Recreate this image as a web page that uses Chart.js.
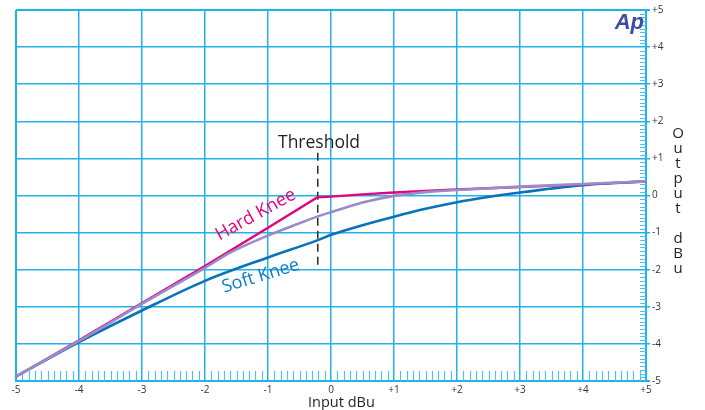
<!DOCTYPE html>
<html><head><meta charset="utf-8">
<script src="https://cdn.jsdelivr.net/npm/chart.js@4.4.1/dist/chart.umd.min.js"></script>
<style>html,body{margin:0;padding:0;background:#fff;}canvas{display:block;}</style>
</head><body>
<canvas id="c" width="705" height="410"></canvas>
<script>
// ---- data ----
const xTickLabels = ['-5','-4','-3','-2','-1','0','+1','+2','+3','+4','+5'];
const yTickLabels = ['-5','-4','-3','-2','-1','0','+1','+2','+3','+4','+5'];
const tickValues = [-5,-4,-3,-2,-1,0,1,2,3,4,5];

const softKneeIn  = [-5, -4, -3, -2, -1, -0.22, 0, 0.5, 1, 1.5, 2, 3, 4, 5];
const softKneeOut = [-4.88, -3.95, -3.1, -2.3, -1.67, -1.21, -1.06, -0.8, -0.57, -0.36, -0.18, 0.08, 0.28, 0.38];

const hardKneeIn  = [-5, -4, -3, -2, -1, -0.22, 0, 0.5, 1, 1.5, 2, 3, 4, 5];
const hardKneeOut = [-4.88, -3.9, -2.9, -1.9, -0.87, -0.05, -0.03, 0.03, 0.08, 0.12, 0.16, 0.23, 0.30, 0.38];

const midKneeIn  = [-5, -4, -3, -2, -1.6, -1, -0.5, -0.22, 0, 0.5, 1, 1.5, 2, 3, 4, 5];
const midKneeOut = [-4.88, -3.92, -2.92, -1.95, -1.54, -1.08, -0.75, -0.57, -0.45, -0.19, -0.01, 0.09, 0.15, 0.24, 0.31, 0.38];

const thresholdIn  = [-0.21, -0.21];
const thresholdOut = [1.15, -1.95];

const pts = (xs, ys) => xs.map((x, i) => ({x: x, y: ys[i]}));

const GRID = '#22b2ea';
const MINOR = '#4cc3ef';

const decor = {
  id: 'decor',
  beforeDatasetsDraw(chart) {
    const {ctx, chartArea: a, scales: {x, y}} = chart;
    ctx.save();
    ctx.strokeStyle = MINOR;
    ctx.lineWidth = 1.2;
    ctx.beginPath();
    for (let k = 0; k <= 100; k++) {
      if (k % 10 === 0) continue;
      const px = Math.round(x.getPixelForValue(-5 + k * 0.1)) + 0.5;
      ctx.moveTo(px, a.bottom - 10);
      ctx.lineTo(px, a.bottom);
      const py = Math.round(y.getPixelForValue(-5 + k * 0.1)) + 0.5;
      ctx.moveTo(a.right - 6, py);
      ctx.lineTo(a.right, py);
    }
    ctx.stroke();
    ctx.restore();
  },
  afterDatasetsDraw(chart) {
    const {ctx, scales: {x, y}} = chart;
    ctx.save();
    // Threshold
    ctx.fillStyle = '#231f20';
    ctx.font = '17.5px "Open Sans"';
    ctx.textAlign = 'center';
    ctx.textBaseline = 'alphabetic';
    ctx.fillText('Threshold', x.getPixelForValue(-0.19), y.getPixelForValue(1.29));
    // Hard Knee
    ctx.font = '18px "Open Sans"';
    ctx.save();
    ctx.translate(x.getPixelForValue(-1.77), y.getPixelForValue(-1.22));
    ctx.rotate(-29 * Math.PI / 180);
    ctx.textAlign = 'left';
    ctx.fillStyle = '#e5007e';
    ctx.fillText('Hard Knee', 0, 0);
    ctx.restore();
    // Soft Knee
    ctx.save();
    ctx.translate(x.getPixelForValue(-1.70), y.getPixelForValue(-2.62));
    ctx.rotate(-17 * Math.PI / 180);
    ctx.textAlign = 'left';
    ctx.fillStyle = '#0a7cc4';
    ctx.fillText('Soft Knee', 0, 0);
    ctx.restore();
    // Ap logo
    ctx.fillStyle = '#3b4ea0';
    ctx.font = 'italic bold 22px "Liberation Sans"';
    ctx.textAlign = 'right';
    ctx.fillText('Ap', 644, 29);
    // axis titles
    ctx.fillStyle = '#231f20';
    ctx.font = '14.5px "Open Sans"';
    ctx.textAlign = 'left';
    ctx.fillText('Input dBu', 308, 406.5);
    ctx.textAlign = 'center';
    ctx.font = '15px "Open Sans"';
    const letters = ['O','u','t','p','u','t','','d','B','u'];
    letters.forEach((ch, i) => { if (ch) ctx.fillText(ch, 678, 137.5 + i * 15); });
    ctx.restore();
  }
};

const edgeWidth = (ctx) => (Math.abs(ctx.tick && ctx.tick.value) === 5 ? 2 : 1.5);

new Chart(document.getElementById('c'), {
  type: 'line',
  data: {
    datasets: [
      {label: 'Mid', data: pts(midKneeIn, midKneeOut), borderColor: '#9a8cca', borderWidth: 2.6, order: 0, cubicInterpolationMode: 'monotone'},
      {label: 'Hard Knee', data: pts(hardKneeIn, hardKneeOut), borderColor: '#e5007e', borderWidth: 2.4, order: 1, tension: 0},
      {label: 'Soft Knee', data: pts(softKneeIn, softKneeOut), borderColor: '#0a72ba', borderWidth: 2.6, order: 2, cubicInterpolationMode: 'monotone'},
      {label: 'Threshold', data: pts(thresholdIn, thresholdOut), borderColor: '#2b2b2b', borderWidth: 1.5, borderDash: [8, 5], order: 3}
    ]
  },
  options: {
    responsive: false,
    animation: false,
    devicePixelRatio: 1,
    layout: {padding: {left: 16, top: 10, right: 0, bottom: 0}},
    elements: {point: {radius: 0}},
    plugins: {legend: {display: false}, tooltip: {enabled: false}},
    scales: {
      x: {
        type: 'linear', min: -5, max: 5,
        afterFit: (s) => { s.height = 29; },
        afterBuildTicks: (s) => { s.ticks = tickValues.map(v => ({value: v})); },
        ticks: {
          callback: (v) => xTickLabels[tickValues.indexOf(v)],
          font: {family: 'Open Sans', size: 10}, color: '#333', padding: 3, maxRotation: 0, autoSkip: false
        },
        grid: {color: GRID, lineWidth: edgeWidth, drawTicks: false},
        border: {display: true, color: GRID, width: 2}
      },
      y: {
        type: 'linear', position: 'right', min: -5, max: 5,
        afterFit: (s) => { s.width = 59; },
        afterBuildTicks: (s) => { s.ticks = tickValues.map(v => ({value: v})); },
        ticks: {
          callback: (v) => yTickLabels[tickValues.indexOf(v)],
          font: {family: 'Open Sans', size: 10}, color: '#333', padding: 2, autoSkip: false
        },
        grid: {color: GRID, lineWidth: edgeWidth, tickLength: 4},
        border: {display: true, color: GRID, width: 2}
      }
    }
  },
  plugins: [decor]
});
</script>
</body></html>
